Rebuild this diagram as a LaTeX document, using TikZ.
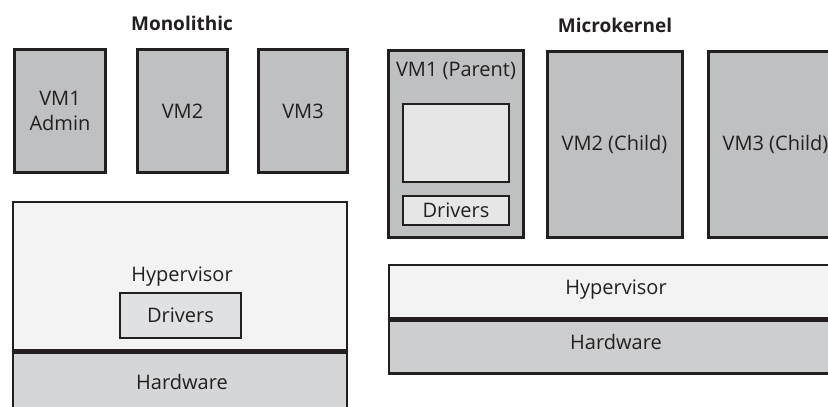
\documentclass[tikz,border=0pt]{standalone}
\usepackage{fontspec}
\setmainfont{Open Sans}
\definecolor{vmgray}{HTML}{BFC0C2}
\definecolor{hypfill}{HTML}{F3F3F3}
\definecolor{hwmono}{HTML}{D5D6D8}
\definecolor{hwmicro}{HTML}{CDCECF}
\definecolor{drvfill}{HTML}{E0E1E3}
\definecolor{innerfill}{HTML}{E6E6E6}
\definecolor{ink}{HTML}{231F20}
\begin{document}
\begin{tikzpicture}[x=1pt,y=-1pt,
  every node/.style={text=ink, font=\fontsize{20}{22}\selectfont},
  box/.style={draw=ink, line width=3pt, rectangle, inner sep=0pt, align=center},
  vm/.style={box, fill=vmgray},
  layer/.style={box, line width=2.6pt},
  drv/.style={box, line width=2.6pt, fill=drvfill},
  label/.style={inner sep=0pt, align=center},
  title/.style={inner sep=0pt, font=\fontsize{19}{22}\selectfont\bfseries}]
\clip (0,0) rectangle (828,407);
\fill[white] (0,0) rectangle (828,407);
% ---------- Monolithic ----------
\node[title] (tmono) at (182,23) {Monolithic};
\node[vm, minimum width=91, minimum height=123] (mvm1) at (60,111) {VM1\\[3pt]Admin};
\node[vm, minimum width=90, minimum height=123] (mvm2) at (182.5,111) {VM2};
\node[vm, minimum width=89, minimum height=123] (mvm3) at (303,111) {VM3};
\node[layer, fill=hypfill, minimum width=334, minimum height=148] (mhyp) at (180,276) {};
\node[layer, fill=hwmono, minimum width=334, minimum height=90, anchor=north] (mhw) at (mhyp.south) {};
\node[label] (mhyplbl) at (182,277) {Hypervisor};
\node[drv, minimum width=121, minimum height=45] (mdrv) at (180.5,315.5) {Drivers};
\node[label] (mhwlbl) at (182,382) {Hardware};
% ---------- Microkernel ----------
\node[title] (tmicro) at (615,25) {Microkernel};
\node[vm, minimum width=135, minimum height=187] (kvm1) at (455.5,143.5) {};
\node[label] (kvm1lbl) at (456,71) {VM1 (Parent)};
\node[box, line width=2.6pt, fill=innerfill, minimum width=106, minimum height=78] (kinner) at (456,143) {};
\node[box, line width=2.6pt, fill=innerfill, minimum width=106, minimum height=29] (kdrv) at (456,210.5) {Drivers};
\node[vm, minimum width=135, minimum height=186] (kvm2) at (614.5,144) {VM2 (Child)};
\node[vm, minimum width=135, minimum height=186] (kvm3) at (775.5,144) {VM3 (Child)};
\node[layer, fill=hypfill, minimum width=520, minimum height=53, anchor=north west] (khyp) at (387.5,263.5) {};
\node[layer, fill=hwmicro, minimum width=520, minimum height=53, anchor=north west] (khw) at (khyp.south west) {};
\node[label] (khyplbl) at (616,290) {Hypervisor};
\node[label] (khwlbl) at (616,342) {Hardware};
\end{tikzpicture}
\end{document}
